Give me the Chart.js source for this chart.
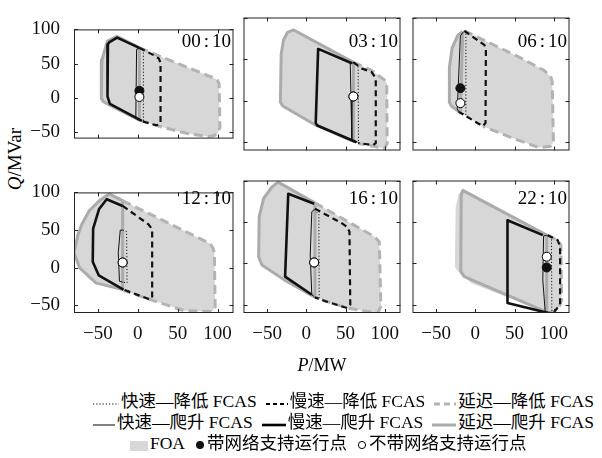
<!DOCTYPE html>
<html><head><meta charset="utf-8">
<script src="https://cdn.jsdelivr.net/npm/chart.js@4.4.1/dist/chart.umd.min.js"></script>
<style>
html,body{margin:0;padding:0;background:#fff;}
body{width:602px;height:458px;position:relative;overflow:hidden;font-family:"Liberation Serif","Noto Sans CJK SC",serif;color:#000;}
canvas{position:absolute;}
.tl{position:absolute;font-size:19px;line-height:19px;white-space:nowrap;text-align:right;}
.tl .c{margin:0 3px;}
.ax{position:absolute;font-size:17px;line-height:17px;white-space:nowrap;}
.lg{position:absolute;font-size:17.5px;line-height:20px;white-space:nowrap;}
.lg svg{vertical-align:middle;margin-right:2px;}
.lg .gap{display:inline-block;width:9px;}
.lg .g2{display:inline-block;width:10px;}
</style></head><body>
<script>
// ---------- data ----------
const timeLabels = ['00:10', '03:10', '06:10', '12:10', '16:10', '22:10'];
const xTickValues = [-50, 0, 50, 100];
const yTickValues = [-50, 0, 50, 100];

// feasible operating area (FOA) outline per panel, [P, Q]
const foa = [
  [[-26,90],[-38,83],[-45,55],[-46,40],[-45.5,-1],[-43,-6],[-35,-11],[6,-35],[27,-42],[60,-52],[88,-57],[96,-55.5],[100,-52],[103,-44],[102,20],[100,25],[97,28],[25,62],[2,73]],
  [[-16,85],[-24,82],[-29,73],[-32,56],[-33,-2],[-30,-6.5],[11,-29],[60,-49],[66.6,-51],[99.5,-57.5],[103,-52],[103,21],[99.5,25],[83,36.5],[60,46]],
  [[-14,84],[-22,79],[-29.5,63.5],[-33,40],[-33,-2],[-30.5,-6.5],[-22,-12.7],[9.5,-30.8],[50,-46],[81,-56.5],[96,-55],[99.5,-49],[98,23],[96,29],[87.5,36.5],[52.6,53.8]],
  [[-36,98],[-47,90],[-60.7,76],[-70,58],[-75,44],[-80,20],[-73,0],[-52.5,-20],[-17.6,-30],[15,-42],[58,-57],[93,-58],[97,-52],[96,20],[94.3,26],[91,32],[-19,89]],
  [[-36,98],[-44,92],[-54.5,78],[-60,56],[-60.7,8],[-56.6,-2],[-28,-20],[13,-42],[52,-54],[70.5,-57],[91,-60],[95,-52],[93,26],[87,32],[11,73]],
  [[-16.4,88],[-21,84],[-25,68],[-26,-4],[-23.4,-8],[-5,-24],[93,-60],[100,-59],[107,-52],[110,-40],[110,20],[106,27],[92,34]]
];
// 延迟—爬升 FCAS
const delayRaise = [
  [[2,73],[-26,90],[-38,83],[-45,55],[-46,40],[-45.5,-1],[-43,-6],[-35,-11],[2,-33],[2,73]],
  [[60,46],[-16,85],[-24,82],[-29,73],[-32,56],[-33,-2],[-30,-6.5],[11,-29],[60,-49],[60,46]],
  [[-16,83],[-22,79],[-29.5,63.5],[-33,40],[-33,-2],[-30.5,-6.5],[-22,-12.7],[-19,-14],[-16,83]],
  [[-19,89],[-36,98],[-47,90],[-60.7,76],[-70,58],[-75,44],[-80,20],[-73,0],[-52.5,-20],[-19,-29],[-19,89]],
  [[11,73],[-36,98],[-44,92],[-54.5,78],[-60,56],[-60.7,8],[-56.6,-2],[-28,-20],[11,-41],[11,73]],
  [[91,34],[-16,88],[-18,82],[-18.5,-10],[-14,-16],[91,-59],[91,34]]
];
// 延迟—降低 FCAS
const delayLower = [
  [[2,73],[25,62],[97,28],[100,25],[102,20],[103,-44],[100,-52],[96,-55.5],[88,-57],[60,-52],[27,-42],[5,-34]],
  [[60,46],[83,36.5],[99.5,25],[102.5,21],[103,-52],[99.5,-57.5],[66.6,-51.5]],
  [[-14,84],[52.6,53.8],[87.5,36.5],[96,29],[98,23],[99.5,-49],[96,-55],[81,-56.5],[50,-46],[9.5,-30.8]],
  [[-19,89],[91,32],[94.3,26],[96,20],[97,-52],[93,-58],[58,-57],[15,-42],[-18,-30]],
  [[11,73],[87,32],[93,26],[95,-52],[91,-60],[70.5,-57],[52,-54],[13,-42]],
  [[92,34],[106,27],[109,22],[110,-44],[107,-52],[100,-59],[93,-60]]
];
// 慢速—爬升 FCAS
const slowRaise = [
  [[2,73],[-26,88],[-36,81],[-37.5,78],[-38,2],[-35,-9],[5,-34]],
  [[58,45],[16,62],[15,59.5],[12,-27],[14,-30],[64,-50]],
  [],
  [[-19,82],[-39,91],[-48.5,78],[-56,52],[-56.5,8],[-49,-10],[-18,-29]],
  [[10,72],[-23,84],[-27,-16],[7,-38]],
  [[86,34],[41,52],[41,-48],[93,-60]]
];
// 慢速—降低 FCAS
const slowLower = [
  [[2,73],[22,61],[26.5,57],[28.5,51],[28.5,-36],[27,-39.5],[23,-40.5],[5,-34.5]],
  [[60,46],[71,38.5],[83,34.5],[87,29],[88.5,25],[88.5,-51],[85,-53.5],[66,-51]],
  [[-14,84],[11.5,67],[13.5,63.5],[13,-27],[9.5,-30.8],[-21,-13.5]],
  [[-19,82],[13,58],[16,54],[18,49],[18,-40],[15,-42],[-18,-29]],
  [[11,66],[46,48],[52,44],[55,38],[56,-50],[52,-54],[25,-46],[11,-41]],
  [[92,34],[105,28],[108,20],[108,-50],[101,-58],[93,-60]]
];
// 快速—爬升 FCAS
const fastRaise = [
  [[2,72],[-1.5,71],[-2.5,-30],[2,-33]],
  [[60,46],[56,44],[57,0],[58,-46],[61,-49]],
  [[-15,83],[-19,78],[-22,10],[-23,-10],[-21,-13.5]],
  [[-19,50],[-22,50],[-24.5,20],[-23,-18],[-19,-19]],
  [[10,65],[7,62],[5,10],[7,-38],[10,-40]],
  [[91,34],[87,33],[86,-20],[89,-58],[92,-59]]
];
// 快速—降低 FCAS
const fastLower = [
  [[2,72],[7,69],[7,-35],[3,-33]],
  [[60,46],[66,42],[66.5,-50],[63,-50]],
  [[-14,84],[-12,80],[-12,-17],[-21,-13.5]],
  [[-19,50],[-14,48],[-13.5,-20],[-19,-19]],
  [[10,65],[16,59],[16.4,-44],[10,-41]],
  [[92,34],[97,31],[97.5,-58],[93,-60]]
];
// operating points
const withSupport = [[2,10],[60,5],[-19,15],[-19,7],[10,1],[91,-5]];
const withoutSupport = [[2,1],[60,5],[-19,-3],[-19,7],[10,1],[91,8]];

// ---------- layout ----------
const colLeft = [74, 241, 410], plotW = 162;
const rowTop = [15, 178], rowH = [138, 135];
const PAD = 3, YAXW = 46, XAXH = 30;
const FONT = {family: '"Liberation Serif", "Times New Roman", serif', size: 19};

const pts = a => a.map(([x, y]) => ({x, y}));
const fmt = v => String(v).replace('-', '\u2212');

const framePlugin = {
  id: 'frameTicks',
  afterDatasetsDraw(chart) {
    const {ctx, chartArea: a, scales: {x, y}} = chart;
    ctx.save();
    ctx.strokeStyle = '#222';
    ctx.lineWidth = 1;
    ctx.strokeRect(a.left + 0.5, a.top + 0.5, a.right - a.left - 1, a.bottom - a.top - 1);
    ctx.beginPath();
    const L = 4;
    x.ticks.forEach(t => {
      const px = Math.round(x.getPixelForValue(t.value)) + 0.5;
      ctx.moveTo(px, a.bottom); ctx.lineTo(px, a.bottom - L);
      ctx.moveTo(px, a.top); ctx.lineTo(px, a.top + L);
    });
    y.ticks.forEach(t => {
      const py = Math.round(y.getPixelForValue(t.value)) + 0.5;
      ctx.moveTo(a.left, py); ctx.lineTo(a.left + L, py);
      ctx.moveTo(a.right, py); ctx.lineTo(a.right - L, py);
    });
    ctx.stroke();
    ctx.restore();
  }
};

function lineDs(data, color, width, dash, order) {
  return {data: pts(data), showLine: true, fill: false, borderColor: color, borderWidth: width,
    borderDash: dash, pointRadius: 0, pointHoverRadius: 0, tension: 0, borderJoinStyle: 'round', order};
}

for (let i = 0; i < 6; i++) {
  const r = Math.floor(i / 3), c = i % 3;
  const showY = c === 0, showX = r === 1;
  const yw = showY ? YAXW : 0, xh = showX ? XAXH : 0;
  const cv = document.createElement('canvas');
  cv.width = PAD + yw + plotW + PAD;
  cv.height = PAD + rowH[r] + xh + PAD;
  cv.style.left = (colLeft[c] - PAD - yw) + 'px';
  cv.style.top = (rowTop[r] - PAD) + 'px';
  document.body.appendChild(cv);

  const closed = foa[i].concat([foa[i][0]]);
  const datasets = [
    {data: pts(withoutSupport.slice(i, i + 1)), pointRadius: 4.5, pointBackgroundColor: '#fff', pointBorderColor: '#000', pointBorderWidth: 1, order: 0},
    {data: pts(withSupport.slice(i, i + 1)), pointRadius: 4.5, pointBackgroundColor: '#111', pointBorderColor: '#111', pointBorderWidth: 1, order: 1},
    lineDs(fastLower[i], '#111', 1, [1.2, 2], 2),
    lineDs(fastRaise[i], '#111', 1, [], 3),
    lineDs(slowLower[i], '#111', 2.2, [6, 4], 4),
    lineDs(slowRaise[i], '#111', 2.6, [], 5),
    lineDs(delayLower[i], '#b3b3b3', 3, [9, 5], 6),
    lineDs(delayRaise[i], '#ababab', 3, [], 7),
    {data: pts(closed), showLine: true, fill: 'shape', backgroundColor: '#d7d7d7', borderWidth: 0, borderColor: 'rgba(0,0,0,0)', pointRadius: 0, tension: 0, order: 8}
  ];

  new Chart(cv, {
    type: 'scatter',
    data: {datasets},
    options: {
      responsive: false, animation: false, devicePixelRatio: 1,
      layout: {padding: PAD},
      plugins: {legend: {display: false}, tooltip: {enabled: false}},
      events: [],
      scales: {
        x: {type: 'linear', min: -80, max: 120, grid: {display: false}, border: {display: false},
          afterBuildTicks: s => { s.ticks = xTickValues.map(v => ({value: v})); },
          ticks: {display: showX, font: FONT, color: '#111', padding: 2, maxRotation: 0, autoSkip: false, callback: fmt},
          afterFit: s => { s.height = xh; }},
        y: {type: 'linear', min: -60, max: 100, grid: {display: false}, border: {display: false},
          afterBuildTicks: s => { s.ticks = yTickValues.map(v => ({value: v})); },
          ticks: {display: showY, font: FONT, color: '#111', padding: 6, autoSkip: false, callback: fmt},
          afterFit: s => { s.width = yw; }}
      }
    },
    plugins: [framePlugin]
  });

  const tl = document.createElement('div');
  tl.className = 'tl';
  const [hh, mm] = timeLabels[i].split(':');
  tl.innerHTML = hh + '<span class="c">:</span>' + mm;
  tl.style.right = (602 - (colLeft[c] + plotW - 5)) + 'px';
  tl.style.top = ((r === 0 ? 40 : 197) - 9.5) + 'px';
  document.body.appendChild(tl);
}
</script>
<div class="ax" style="left:14px;top:159px;transform:translate(-50%,-50%) rotate(-90deg);font-size:19px;"><i>Q</i>/MVar</div>
<div class="ax" style="left:322px;top:365px;transform:translate(-50%,-50%);font-size:18px;"><i>P</i>/MW</div>

<div class="lg" style="left:93px;top:391px;">
<svg width="26" height="10"><line x1="0" y1="6" x2="26" y2="6" stroke="#000" stroke-width="1" stroke-dasharray="1.2 2"/></svg>快速—降低 FCAS<span class="gap"></span><svg width="22" height="10"><line x1="0" y1="6" x2="22" y2="6" stroke="#000" stroke-width="2" stroke-dasharray="4 3"/></svg>慢速—降低 FCAS<span class="gap"></span><svg width="22" height="10"><line x1="0" y1="6" x2="22" y2="6" stroke="#b3b3b3" stroke-width="3" stroke-dasharray="6 4"/></svg>延迟—降低 FCAS
</div>
<div class="lg" style="left:93px;top:412px;">
<svg width="22" height="10"><line x1="0" y1="6" x2="22" y2="6" stroke="#000" stroke-width="1"/></svg>快速—爬升 FCAS<span class="gap"></span><svg width="24" height="10"><line x1="0" y1="6" x2="24" y2="6" stroke="#000" stroke-width="2.6"/></svg>慢速—爬升 FCAS<span class="gap"></span><svg width="24" height="10"><line x1="0" y1="6" x2="24" y2="6" stroke="#ababab" stroke-width="3"/></svg>延迟—爬升 FCAS
</div>
<div class="lg" style="left:130px;top:433px;">
<svg width="18" height="12"><rect x="0" y="2" width="18" height="10" fill="#d7d7d7"/></svg>FOA<span class="g2"></span><svg width="10" height="10"><circle cx="5" cy="5" r="4" fill="#111"/></svg>带网络支持运行点<span class="g2"></span><svg width="10" height="10"><circle cx="5" cy="5" r="3.6" fill="#fff" stroke="#000" stroke-width="1"/></svg>不带网络支持运行点
</div>
</body></html>
